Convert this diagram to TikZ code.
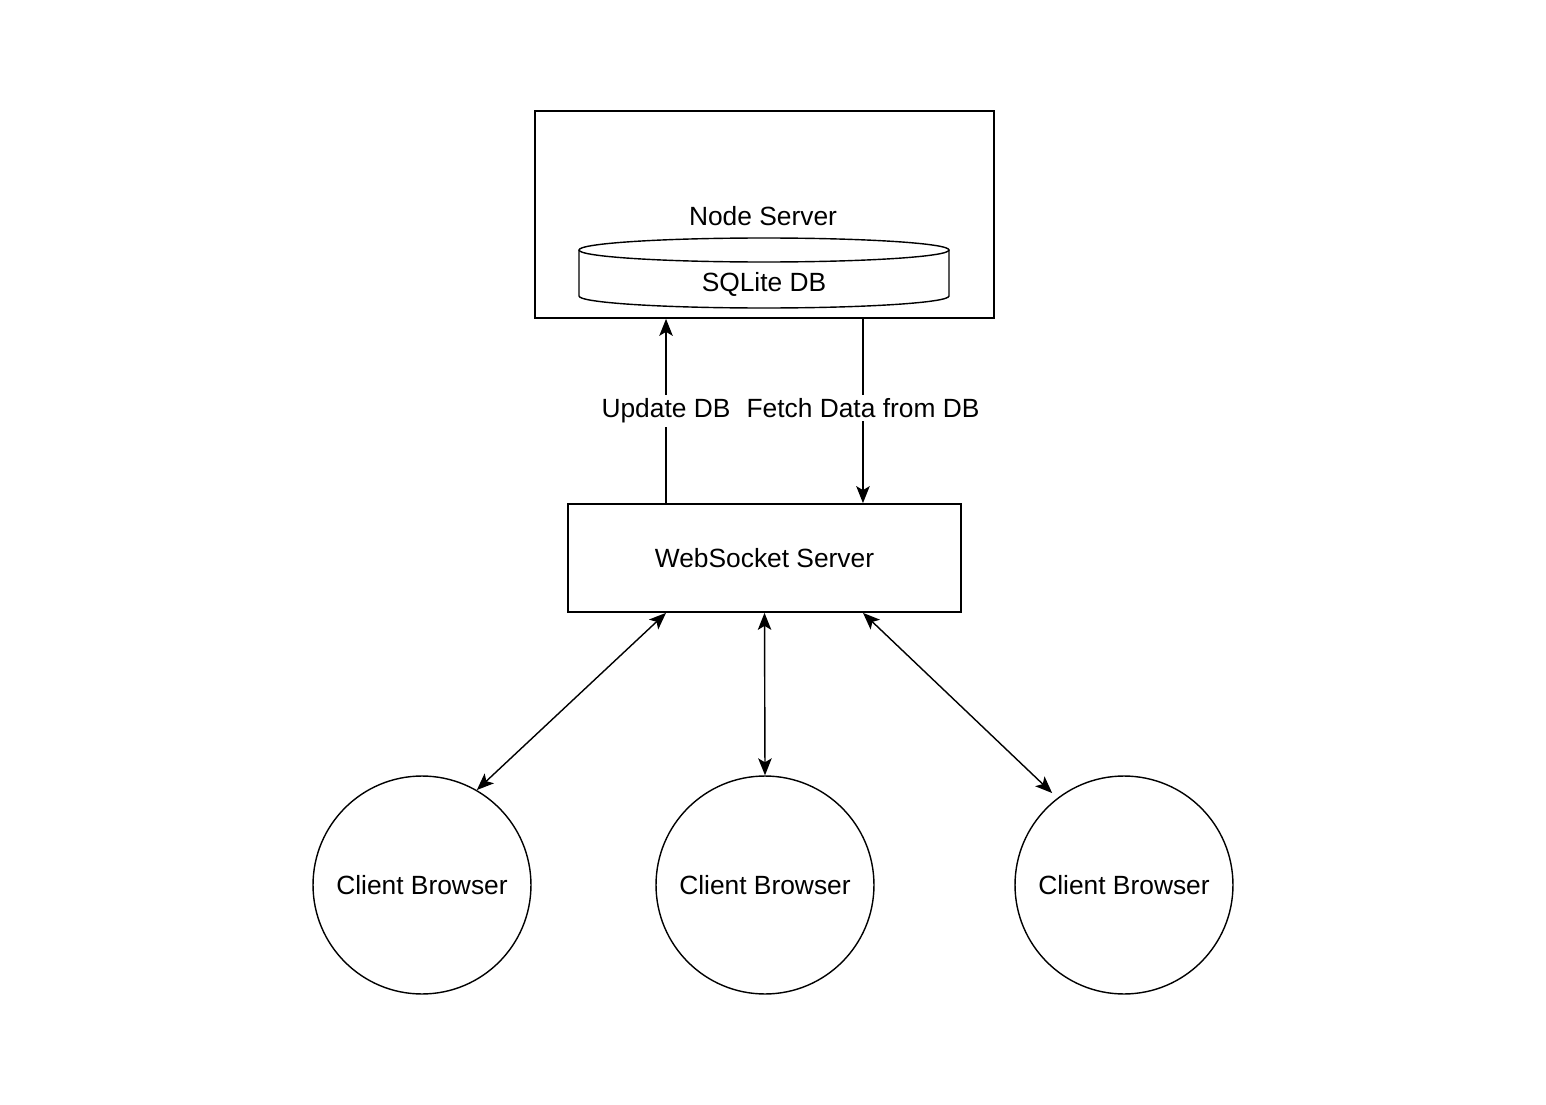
\documentclass[tikz,border=0pt]{standalone}
\usepackage{fontspec}
\setmainfont{Liberation Sans}
\usetikzlibrary{arrows.meta}
\begin{document}
\begin{tikzpicture}[x=0.02cm,y=0.02cm,
	>={Stealth[length=0.34cm,width=0.27cm,inset=0.08cm]},
	box/.style={draw,line width=1pt,inner sep=0pt},
	client/.style={draw,circle,line width=0.8pt,minimum size=4.36cm,inner sep=0pt},
	txt/.style={font=\fontsize{15}{18}\selectfont},
	arr/.style={->,line width=0.9pt},
	biarr/.style={<->,line width=0.8pt},
	lbl/.style={txt,fill=white,inner sep=2pt}]
	\useasboundingbox (0,0) rectangle (1546,-1105);
	
	%NODE SERVER
	\node[box,minimum width=9.18cm,minimum height=4.14cm] (ns) at (764.5,-214.5) {};
	\node[txt] (nslabel) at (763,-216) {Node Server};
	%db
	\draw[line width=0.8pt] (579,-250) -- (579,-296) arc (180:360:185 and 12) -- (949,-250);
	\draw[line width=0.8pt] (764,-250) ellipse (185 and 12);
	\node[txt] (db) at (764,-284) {SQLite DB};
	
	%WEBSOCKET SERVER
	\node[box,txt,minimum width=7.86cm,minimum height=2.16cm] (ws) at (764.5,-558) {WebSocket Server};
	
	%linee
	\coordinate (u0) at ([xshift=-1.97cm]ws.north);
	\coordinate (f0) at ([xshift=1.97cm]ws.north);
	\draw[arr] (u0) -- (u0 |- ns.south) node[lbl,midway] (upd) {Update DB};
	\draw[arr] (f0 |- ns.south) -- (f0) node[lbl,midway,yshift=0.06cm] (fetch) {Fetch Data from DB};
	
	%CLIENTS
	\node[client,txt] (c1) at (422,-885) {Client Browser};
	\node[client,txt] (c2) at (765,-885) {Client Browser};
	\node[client,txt] (c3) at (1124,-885) {Client Browser};
	
	%linee
	\coordinate (s1) at ([xshift=-1.97cm]ws.south);
	\coordinate (s3) at ([xshift=1.97cm]ws.south);
	\coordinate (e3) at ([shift={(128:0.14cm)}]c3.128);
	\draw[biarr] (s1) -- (c1.60);
	\draw[biarr] (ws.south) -- (c2.north);
	\draw[biarr] (s3) -- (e3);
	
\end{tikzpicture}
\end{document}
